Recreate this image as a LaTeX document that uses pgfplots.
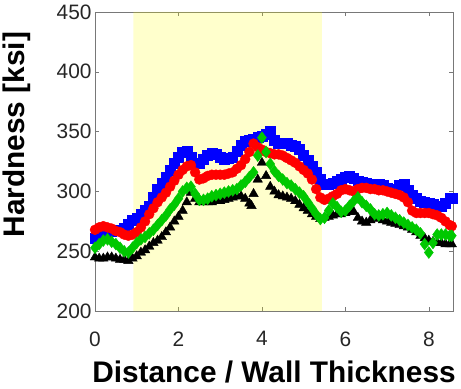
\documentclass[border=0pt]{standalone}
\usepackage{pgfplots}
\pgfplotsset{compat=1.18}
\usepackage{fontspec}
\setmainfont{Liberation Sans}
\definecolor{cblue}{RGB}{0,0,255}
\definecolor{cred}{RGB}{255,0,0}
\definecolor{cgreen}{RGB}{0,200,0}
\definecolor{cyel}{RGB}{255,255,0}
\definecolor{axgray}{RGB}{120,120,120}
\begin{document}
\begin{tikzpicture}
\begin{axis}[
  scale only axis, width=359bp, height=300bp,
  xmin=0, xmax=8.58, ymin=200, ymax=450,
  xtick={0,2,4,6,8}, ytick={200,250,300,350,400,450},
  tick align=inside, major tick length=4bp,
  axis line style={axgray}, every tick/.style={axgray},
  /pgf/number format/assume math mode=true,
  tick label style={font=\fontsize{21}{24}\selectfont, text=black!85},
  xticklabel style={yshift=-17bp},
  yticklabel style={xshift=0bp},
  xlabel={\textbf{Distance / Wall Thickness}},
  ylabel={\textbf{Hardness [ksi]}},
  every axis x label/.style={at={(rel axis cs:0.5,0)}, yshift=-61bp, anchor=center, font=\fontsize{30}{34}\selectfont},
  every axis y label/.style={at={(rel axis cs:0,0.59)}, xshift=-78bp, rotate=90, anchor=center, font=\fontsize{30}{34}\selectfont},
  clip=true,
]
\addplot[only marks, mark=square*, mark size=5bp, color=cblue] coordinates {
(0,261) (0.1,262) (0.2,264) (0.3,265) (0.4,267) (0.5,268) (0.6,268) (0.7,269) (0.8,273) (0.9,276) (1.0,278) (1.1,281) (1.2,284) (1.3,288) (1.4,295) (1.5,302) (1.6,307) (1.7,312) (1.8,318) (1.9,324) (2.0,329) (2.1,333) (2.2,334) (2.3,329) (2.4,324) (2.5,324) (2.6,327) (2.7,330) (2.8,332) (2.9,331) (3.0,329) (3.1,327) (3.2,328) (3.3,329) (3.4,334) (3.5,339) (3.6,342) (3.7,343) (3.8,344) (3.9,345) (4.0,346) (4.1,348) (4.2,350) (4.3,343) (4.4,340) (4.5,340) (4.6,340) (4.7,339) (4.8,338) (4.9,335) (5.0,330) (5.1,326) (5.2,321) (5.3,316) (5.4,310) (5.5,306) (5.6,306) (5.7,307) (5.8,309) (5.9,310) (6.0,312) (6.1,313) (6.2,311) (6.3,309) (6.4,308) (6.5,307) (6.6,306) (6.7,306) (6.8,306) (6.9,305) (7.0,303) (7.1,301) (7.2,302) (7.3,305) (7.4,306) (7.5,301) (7.6,297) (7.7,294) (7.8,292) (7.9,291) (8.0,290) (8.1,289) (8.2,288) (8.3,288) (8.4,290) (8.5,294) (8.55,294)};
\addplot[only marks, mark=*, mark size=5bp, color=cred] coordinates {
(0,268) (0.1,270) (0.2,271) (0.3,270) (0.4,269) (0.5,267) (0.6,266) (0.7,264) (0.8,263) (0.9,264) (1.0,266) (1.1,270) (1.2,275) (1.3,281) (1.4,286) (1.5,291) (1.6,295) (1.7,299) (1.8,304) (1.9,309) (2.0,314) (2.1,318) (2.2,321) (2.3,322) (2.4,316) (2.5,310) (2.6,311) (2.7,313) (2.8,314) (2.9,314) (3.0,314) (3.1,314) (3.2,315) (3.3,316) (3.4,319) (3.5,322) (3.6,327) (3.7,333) (3.8,340) (3.9,337) (4.0,335) (4.1,333) (4.2,332) (4.3,331) (4.4,331) (4.5,330) (4.6,328) (4.7,326) (4.8,324) (4.9,321) (5.0,318) (5.1,315) (5.2,310) (5.3,302) (5.4,295) (5.5,293) (5.6,294) (5.7,296) (5.8,298) (5.9,301) (6.0,302) (6.1,301) (6.2,300) (6.3,302) (6.4,303) (6.5,303) (6.6,302) (6.7,302) (6.8,301) (6.9,301) (7.0,300) (7.1,299) (7.2,298) (7.3,297) (7.4,295) (7.5,291) (7.6,284) (7.7,282) (7.8,282) (7.9,282) (8.0,282) (8.1,281) (8.2,280) (8.3,278) (8.4,275) (8.5,272) (8.55,271)};
\addplot[only marks, mark=triangle*, mark size=5.5bp, color=black] coordinates {
(0,245) (0.1,244) (0.2,244) (0.3,245) (0.4,245) (0.5,244) (0.6,243) (0.7,243) (0.8,242) (0.9,244) (1.0,246) (1.1,249) (1.2,251) (1.3,254) (1.4,257) (1.5,259) (1.6,262) (1.7,266) (1.8,270) (1.9,275) (2.0,279) (2.1,284) (2.2,291) (2.3,299) (2.4,294) (2.5,291) (2.6,291) (2.7,291) (2.8,291) (2.9,292) (3.0,292) (3.1,293) (3.2,294) (3.3,295) (3.4,296) (3.5,296) (3.6,294) (3.7,290) (3.75,288) (3.8,298) (3.9,310) (4.0,324) (4.1,313) (4.2,304) (4.3,300) (4.4,297) (4.5,296) (4.6,295) (4.7,294) (4.8,292) (4.9,289) (5.0,286) (5.1,284) (5.2,281) (5.3,279) (5.4,277) (5.5,278) (5.6,279) (5.7,280) (5.8,281) (5.9,281) (6.0,282) (6.1,283) (6.2,283) (6.3,278) (6.4,275) (6.5,274) (6.6,276) (6.7,278) (6.8,277) (6.9,276) (7.0,275) (7.1,274) (7.2,273) (7.3,272) (7.4,271) (7.5,270) (7.6,268) (7.7,266) (7.8,263) (7.9,261) (8.0,259) (8.1,258) (8.2,257) (8.3,257) (8.4,256) (8.5,256) (8.55,256)};
\addplot[only marks, mark=diamond*, mark size=6bp, color=cgreen] coordinates {
(0,253) (0.1,256) (0.2,259) (0.3,260) (0.4,258) (0.5,256) (0.6,253) (0.7,250) (0.8,249) (0.9,253) (1.0,257) (1.1,260) (1.2,262) (1.3,265) (1.4,268) (1.5,272) (1.6,276) (1.7,280) (1.8,285) (1.9,289) (2.0,294) (2.1,300) (2.2,303) (2.3,304) (2.4,298) (2.5,293) (2.6,293) (2.7,294) (2.8,296) (2.9,297) (3.0,298) (3.1,299) (3.2,300) (3.3,301) (3.4,302) (3.5,305) (3.6,308) (3.7,312) (3.8,316) (3.9,330) (4.0,345) (4.1,333) (4.2,323) (4.3,317) (4.4,313) (4.5,310) (4.6,307) (4.7,305) (4.8,302) (4.9,299) (5.0,296) (5.1,291) (5.2,286) (5.3,281) (5.4,277) (5.5,278) (5.6,284) (5.7,290) (5.8,287) (5.9,283) (6.0,284) (6.1,288) (6.2,292) (6.3,295) (6.4,291) (6.5,288) (6.6,285) (6.7,281) (6.8,280) (6.9,281) (7.0,282) (7.1,280) (7.2,278) (7.3,276) (7.4,274) (7.5,272) (7.6,270) (7.7,268) (7.8,265) (7.9,256) (8.0,249) (8.1,257) (8.2,264) (8.3,264) (8.4,264) (8.5,263) (8.55,263)};
\addplot[draw=none, fill=cyel, fill opacity=0.2] coordinates {(0.92,200) (5.44,200) (5.44,450) (0.92,450)} \closedcycle;
\path (rel axis cs:0,0) ++(-94bp,-78bp) coordinate (bl);
\path (rel axis cs:1,1) ++(8bp,12bp) coordinate (tr);
\end{axis}
\useasboundingbox (bl) rectangle (tr);
\end{tikzpicture}
\end{document}
